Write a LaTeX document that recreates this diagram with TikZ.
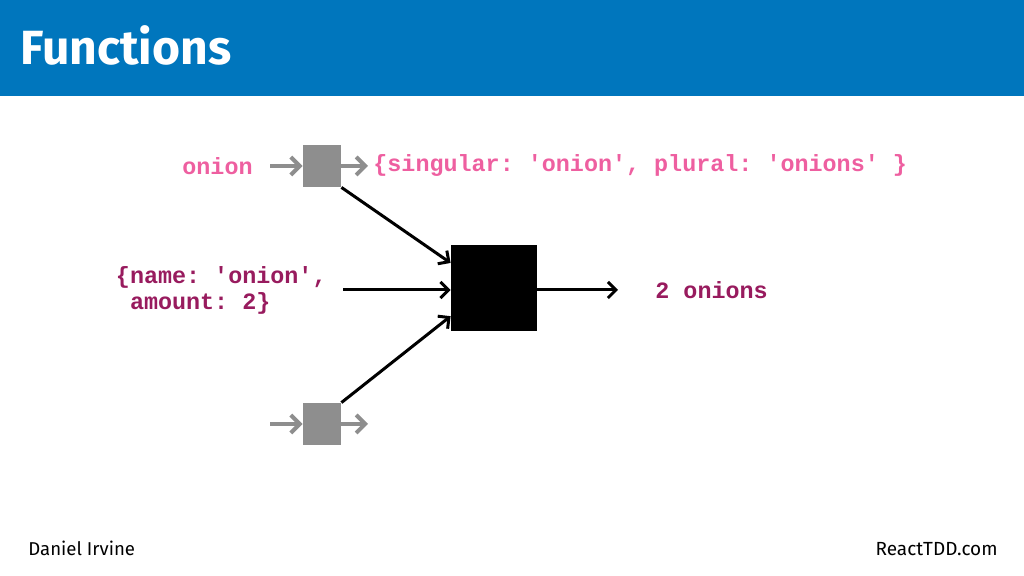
\documentclass[tikz,border=0pt]{standalone}
\usepackage{fontspec}
\setmainfont{Fira Sans}
\setmonofont{Liberation Mono}
\usepackage{xcolor}
\definecolor{slideblue}{HTML}{0076BD}
\definecolor{codepink}{HTML}{EE5FA0}
\definecolor{codemaroon}{HTML}{981B5E}
\definecolor{boxgray}{HTML}{8E8E8E}
\usepackage{tikz}
\usetikzlibrary{arrows.meta, positioning}

\tikzset{
  code/.style={font=\fontsize{11.7}{13}\selectfont\ttfamily\bfseries, inner ysep=0pt},
  graybox/.style={fill=boxgray, minimum width=19pt, minimum height=21pt, inner sep=0pt},
  grayarrow/.style={draw=boxgray, line width=2pt, -{Straight Barb[length=4.5pt, width=9pt]}},
  flowarrow/.style={draw=black, line width=1.5pt, -{Straight Barb[length=4pt, width=8pt]}},
}

\begin{document}
\begin{tikzpicture}[x=0.5pt, y=-0.5pt]
  \useasboundingbox (0,0) rectangle (1024,576);
  % header bar
  \fill[slideblue] (0,0) rectangle (1024,96);
  \node[anchor=base west, inner sep=0pt, text=white,
        font=\fontsize{24}{28}\selectfont\bfseries] (title) at (20,65) {Functions};

  % boxes
  \node[graybox] (fetch) at (322,166) {};
  \node[graybox] (other) at (322,424) {};
  \node[fill=black, minimum width=43pt, minimum height=43pt, inner sep=0pt] (fn) at (494,288) {};

  % texts
  \node[code, text=codepink, anchor=east, inner xsep=8.5pt] (key) at (270,166) {onion};
  \node[code, text=codepink, anchor=west, inner xsep=2.5pt] (noun) at (368,166) {\{singular: 'onion', plural: 'onions' \}};
  \node[code, text=codemaroon, anchor=east, inner xsep=8pt, align=left] (input) at (343,290)
    {\{name: 'onion',\\\ amount: 2\}};
  \node[code, text=codemaroon, anchor=west, inner xsep=18.5pt] (result) at (618,290) {2 onions};

  % gray side arrows
  \coordinate (otherin) at (270,424);
  \coordinate (otherout) at (368,424);
  \draw[grayarrow] (key) -- (fetch);
  \draw[grayarrow] (fetch) -- (noun);
  \draw[grayarrow] (otherin) -- (other);
  \draw[grayarrow] (other) -- (otherout);

  % into and out of the function
  \draw[flowarrow] (fetch.south east) -- (fn.150);
  \draw[flowarrow] (input.east) -- (input.east -| fn.west);
  \draw[flowarrow] (other.north east) -- (fn.213);
  \draw[flowarrow] (fn.east |- result.west) -- (result.west);

  % footer
  \node[anchor=base west, inner sep=0pt, font=\fontsize{9.3}{11}\selectfont] (author) at (28,556) {Daniel Irvine};
  \node[anchor=base east, inner sep=0pt, font=\fontsize{9.5}{11}\selectfont] (site) at (998,556) {ReactTDD.com};
\end{tikzpicture}
\end{document}
